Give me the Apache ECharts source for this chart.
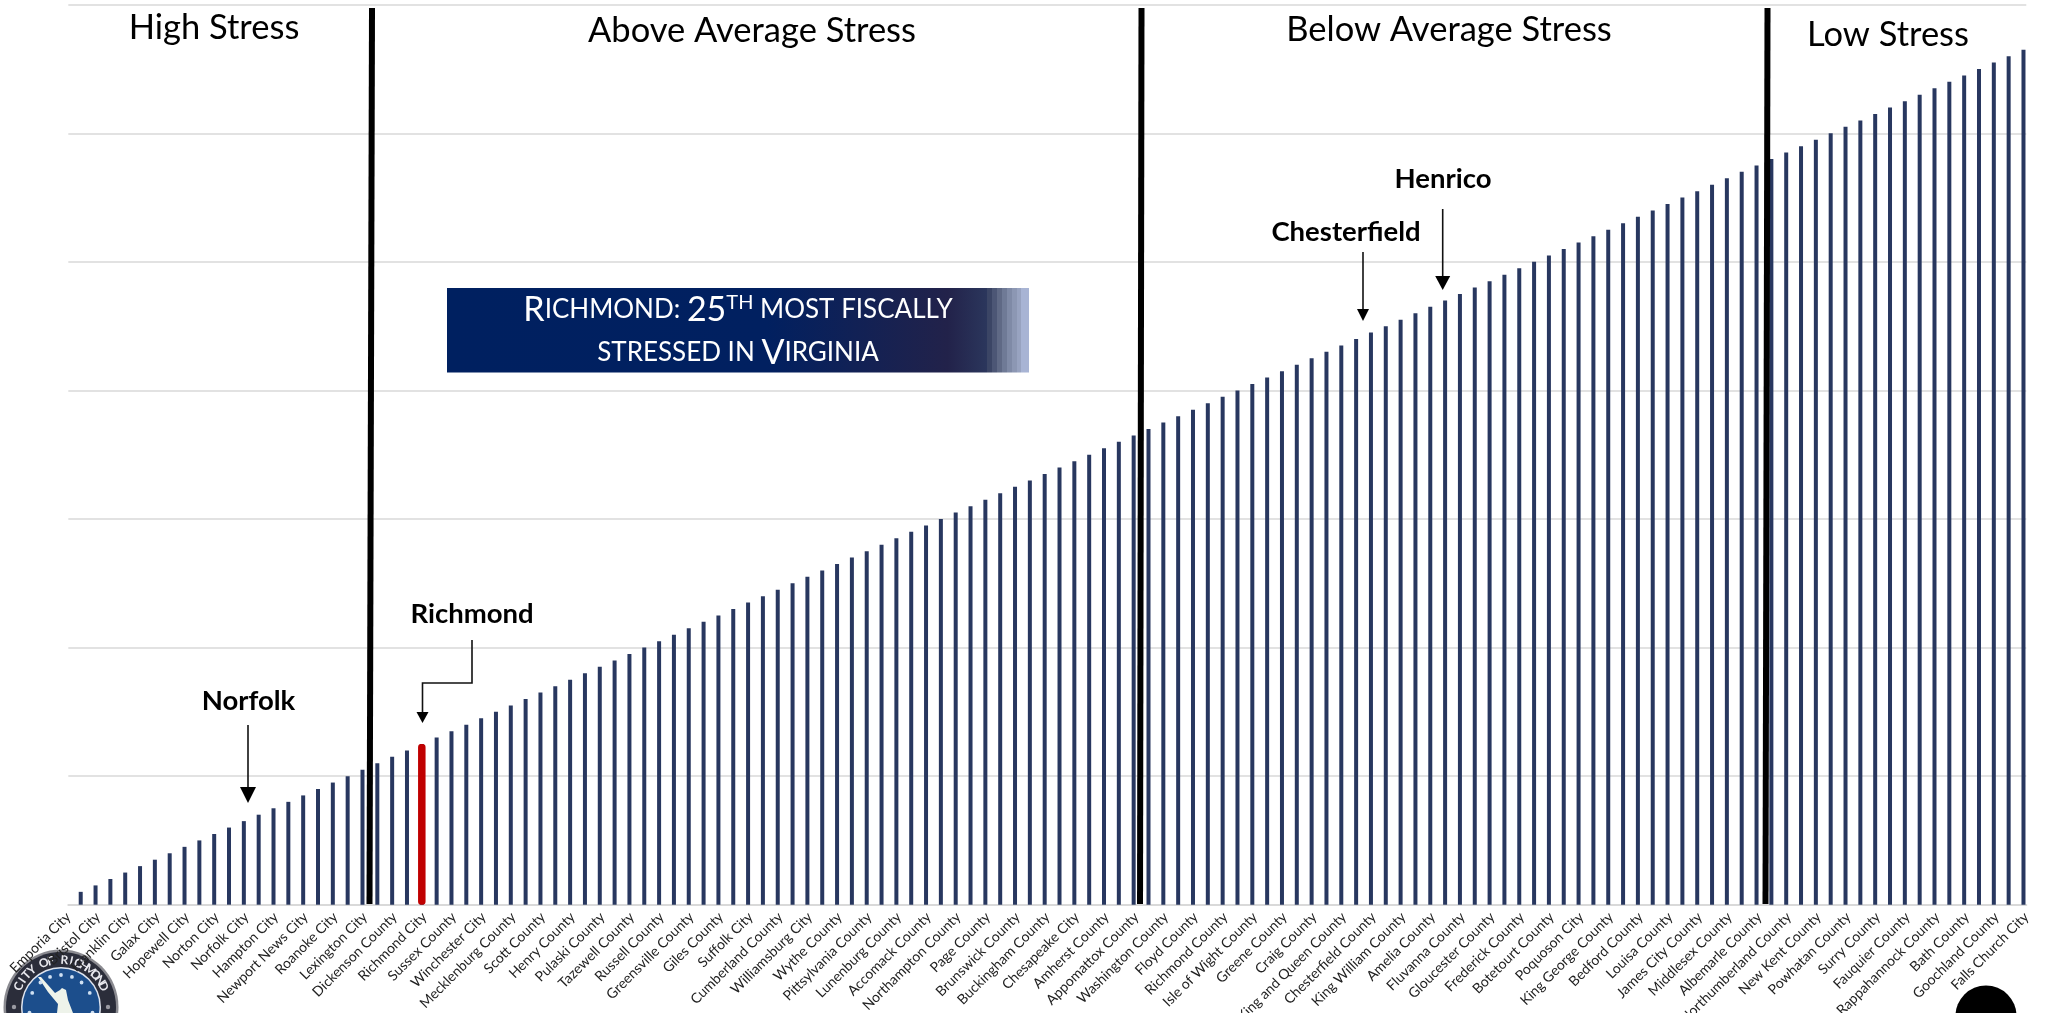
<!DOCTYPE html>
<html>
<head>
<meta charset="utf-8">
<title>Fiscal stress ranking</title>
<style>
    html, body { margin: 0; padding: 0; background: #fff; overflow: hidden; }
    #main { width: 2049px; height: 1013px; }
</style>
<script src="https://cdn.jsdelivr.net/npm/echarts@6/dist/echarts.min.js"></script>
</head>
<body>
<div id="main"></div>
<script>
// 67 labels, the axis only shows every other locality
const tickLabels = [
    'Emporia City', 'Bristol City', 'Franklin City', 'Galax City', 'Hopewell City', 'Norton City',
    'Norfolk City', 'Hampton City', 'Newport News City', 'Roanoke City', 'Lexington City',
    'Dickenson County', 'Richmond City', 'Sussex County', 'Winchester City', 'Mecklenburg County',
    'Scott County', 'Henry County', 'Pulaski County', 'Tazewell County', 'Russell County',
    'Greensville County', 'Giles County', 'Suffolk City', 'Cumberland County', 'Williamsburg City',
    'Wythe County', 'Pittsylvania County', 'Lunenburg County', 'Accomack County', 'Northampton County',
    'Page County', 'Brunswick County', 'Buckingham County', 'Chesapeake City', 'Amherst County',
    'Appomattox County', 'Washington County', 'Floyd County', 'Richmond County', 'Isle of Wight County',
    'Greene County', 'Craig County', 'King and Queen County', 'Chesterfield County', 'King William County',
    'Amelia County', 'Fluvanna County', 'Gloucester County', 'Frederick County', 'Botetourt County',
    'Poquoson City', 'King George County', 'Bedford County', 'Louisa County', 'James City County',
    'Middlesex County', 'Albemarle County', 'Northumberland County', 'New Kent County', 'Powhatan County',
    'Surry County', 'Fauquier County', 'Rappahannock County', 'Bath County', 'Goochland County',
    'Falls Church City'
];

// bar heights (one gridline = 20)
const barValues = [
    2, 3, 4, 5, 6, 7, 8, 9, 10, 11, 12, 13, 14, 15, 16, 17, 18, 19, 20, 21, 22, 23, 24, 25,
    26, 27, 28, 29, 30, 31, 32, 33, 34, 35, 36, 37, 38, 39, 40, 41, 42, 43, 44, 45, 46, 47, 48, 49,
    50, 51, 52, 53, 54, 55, 56, 57, 58, 59, 60, 61, 62, 63, 64, 65, 66, 67, 68, 69, 70, 71, 72, 73,
    74, 75, 76, 77, 78, 79, 80, 81, 82, 83, 84, 85, 86, 87, 88, 89, 90, 91, 92, 93, 94, 95, 96, 97,
    98, 99, 100, 101, 102, 103, 104, 105, 106, 107, 108, 109, 110, 111, 112, 113, 114, 115, 116, 117,
    118, 119, 120, 121, 122, 123, 124, 125, 126, 127, 128, 129, 130, 131, 132, 133
];
const richmondValue = 25;

const barCategories = barValues.map(String);
const richmondData = barValues.map(v => (v === richmondValue ? v : null));

const bandTitles = [
    { text: 'High Stress', x: 214, y: 28 },
    { text: 'Above Average Stress', x: 752, y: 31 },
    { text: 'Below Average Stress', x: 1449, y: 30 },
    { text: 'Low Stress', x: 1888, y: 35 }
];

const FONT = 'Lato, "Open Sans", sans-serif';
const NAVY = '#28375f';

// 分隔线
function divider(x1, x2) {
    return {
        type: 'line', z: 20, silent: true,
        shape: { x1: x1, y1: 8, x2: x2, y2: 904 },
        style: { stroke: '#000', lineWidth: 6 }
    };
}

// 箭头: points = 折线, 最后一段朝下
function arrow(points, headTop, headWidth) {
    const tip = points[points.length - 1];
    return [
        {
            type: 'polyline', z: 20, silent: true,
            shape: { points: points.slice(0, -1).concat([[tip[0], headTop]]) },
            style: { stroke: '#111', lineWidth: 1.6, fill: null }
        },
        {
            type: 'polygon', z: 20, silent: true,
            shape: { points: [[tip[0] - headWidth / 2, headTop], [tip[0] + headWidth / 2, headTop], tip] },
            style: { fill: '#000' }
        }
    ];
}

function boldLabel(text, x, y) {
    return {
        type: 'text', z: 20, silent: true,
        style: { text: text, x: x, y: y, textAlign: 'center', textVerticalAlign: 'middle', font: 'bold 27.5px ' + FONT, fill: '#000' }
    };
}

// 横幅渐变, 右端是一格一格变浅的
function bannerFill() {
    const steps = [
        [0.927, '#3b4565'], [0.936, '#4c5675'], [0.945, '#5f6985'], [0.953, '#6f7a96'],
        [0.962, '#7f8aa6'], [0.970, '#8c97b3'], [0.979, '#98a3c0'], [0.987, '#a8b4d4']
    ];
    const stops = [
        { offset: 0, color: '#002060' },
        { offset: 0.55, color: '#012060' },
        { offset: 0.86, color: '#22224a' },
        { offset: 0.927, color: '#2b365c' }
    ];
    steps.forEach((s, i) => {
        const end = i < steps.length - 1 ? steps[i + 1][0] : 1;
        stops.push({ offset: s[0], color: s[1] }, { offset: end, color: s[1] });
    });
    return new echarts.graphic.LinearGradient(0, 0, 1, 0, stops);
}

// 城市徽章
function seal() {
    const cx = 61, cy = 1007;
    const els = [
        { type: 'circle', z: -5, silent: true, shape: { cx: cx, cy: cy, r: 57.5 }, style: { fill: '#8a8a90' } },
        { type: 'circle', z: -5, silent: true, shape: { cx: cx, cy: cy, r: 55 }, style: { fill: '#2b2d3a' } },
        { type: 'circle', z: -5, silent: true, shape: { cx: cx, cy: cy, r: 40 }, style: { fill: '#dfe4ee' } },
        { type: 'circle', z: -5, silent: true, shape: { cx: cx, cy: cy, r: 38.5 }, style: { fill: '#1c4e8c' } },
        {
            type: 'polygon', z: -5, silent: true,
            shape: { points: [[38, 977], [41, 977], [55, 993], [60, 990], [62, 988], [66, 990], [68, 1000], [73, 1013], [57, 1013], [58, 1004], [48, 992]] },
            style: { fill: '#eef3ea' }
        }
    ];
    const name = 'CITY OF RICHMOND';
    for (let i = 0; i < name.length; i++) {
        const a = (-64 + i * 128 / (name.length - 1)) * Math.PI / 180;
        els.push({
            type: 'text', z: -5, silent: true, rotation: -a,
            x: cx + 47 * Math.sin(a), y: cy - 47 * Math.cos(a),
            style: { text: name[i], x: 0, y: 0, textAlign: 'center', textVerticalAlign: 'middle', font: 'bold 12px ' + FONT, fill: '#e8e8ee' }
        });
    }
    [-64, -40, -20, 0, 20, 40, 64, 100, -100].forEach(deg => {
        const a = deg * Math.PI / 180;
        els.push({
            type: 'circle', z: -5, silent: true,
            shape: { cx: cx + 32 * Math.sin(a), cy: cy - 32 * Math.cos(a), r: 1.9 },
            style: { fill: '#cfe0f2' }
        });
    });
    [-90, 90].forEach(deg => {
        const a = deg * Math.PI / 180;
        els.push({
            type: 'circle', z: -5, silent: true,
            shape: { cx: cx + 47 * Math.sin(a), cy: cy - 47 * Math.cos(a), r: 2.2 },
            style: { fill: '#9a9aa2' }
        });
    });
    return els;
}

const graphicElements = [
    divider(372, 369.5),
    divider(1141.5, 1140),
    divider(1767.5, 1765.5)
].concat(
    bandTitles.map(t => ({
        type: 'text', z: 20, silent: true,
        style: { text: t.text, x: t.x, y: t.y, textAlign: 'center', textVerticalAlign: 'middle', font: '34.5px ' + FONT, fill: '#000' }
    })),
    boldLabel('Norfolk', 248.5, 701),
    boldLabel('Richmond', 472, 614),
    boldLabel('Chesterfield', 1346, 232),
    boldLabel('Henrico', 1443, 179),
    arrow([[248, 725], [248, 803]], 787, 16),
    arrow([[472, 640], [472, 683], [422.5, 683], [422.5, 723]], 712, 12),
    arrow([[1363, 252], [1363, 321]], 309, 12),
    arrow([[1442.7, 209], [1442.7, 290]], 276, 15),
    [{
        type: 'rect', z: 20, silent: true,
        shape: { x: 447, y: 288, width: 582, height: 84.5 },
        style: { fill: bannerFill() }
    }, {
        type: 'text', z: 21, silent: true,
        style: {
            text: '{b|R}{s|ICHMOND: }{b|25}{u|TH}{s| MOST FISCALLY}',
            x: 738, y: 310, textAlign: 'center', textVerticalAlign: 'middle',
            fill: '#fff',
            rich: {
                b: { font: '34px ' + FONT, fill: '#fff' },
                s: { font: '26px ' + FONT, fill: '#fff' },
                u: { font: '20px ' + FONT, fill: '#fff', verticalAlign: 'top', lineHeight: 30 }
            }
        }
    }, {
        type: 'text', z: 21, silent: true,
        style: {
            text: '{s|STRESSED IN }{b|V}{s|IRGINIA}',
            x: 738, y: 353, textAlign: 'center', textVerticalAlign: 'middle',
            fill: '#fff',
            rich: {
                b: { font: '34px ' + FONT, fill: '#fff' },
                s: { font: '26px ' + FONT, fill: '#fff' }
            }
        }
    }],
    seal(),
    // 右下角黑色圆块
    [{ type: 'circle', z: -5, silent: true, shape: { cx: 1986, cy: 1016, r: 30.5 }, style: { fill: '#000' } }]
);

const myChart = echarts.init(document.getElementById('main'));

const option = {
    animation: false,
    backgroundColor: '#fff',
    // grid 0: 网格线和标签; grid 1: 柱子 (柱子相对刻度右移 5px)
    grid: [
        { left: 68.3, top: 4.7, width: 1958, height: 900, outerBoundsMode: 'none' },
        { left: 73.3, top: 4.7, width: 1957.6, height: 900, outerBoundsMode: 'none' }
    ],
    xAxis: [
        {
            type: 'category',
            gridIndex: 0,
            data: tickLabels,
            boundaryGap: false,
            axisLine: { show: true, lineStyle: { color: '#d9d9d9', width: 2 } },
            axisTick: { show: false },
            axisLabel: {
                interval: 0,
                rotate: 45,
                margin: 10,
                hideOverlap: false,
                showMinLabel: true,
                showMaxLabel: true,
                fontFamily: FONT,
                fontSize: 14,
                color: '#222'
            }
        },
        { type: 'category', gridIndex: 1, data: barCategories, show: false },
        { type: 'category', gridIndex: 1, data: barCategories, position: 'top', show: false }
    ],
    yAxis: [
        {
            type: 'value',
            gridIndex: 0,
            min: 0,
            max: 140,
            interval: 20,
            axisLine: { show: false },
            axisTick: { show: false },
            axisLabel: { show: false },
            splitLine: { lineStyle: { color: '#d9d9d9', width: 1.6 } }
        },
        { type: 'value', gridIndex: 1, min: 0, max: 140, show: false, splitLine: { show: false } }
    ],
    series: [
        {
            type: 'bar',
            xAxisIndex: 1,
            yAxisIndex: 1,
            data: barValues,
            barWidth: 4,
            itemStyle: { color: NAVY },
            silent: true
        },
        {
            type: 'bar',
            xAxisIndex: 2,
            yAxisIndex: 1,
            data: richmondData,
            barWidth: 7.5,
            itemStyle: { color: '#c00000', borderColor: '#c00000', borderWidth: 2.5, borderRadius: 2 },
            silent: true
        }
    ],
    graphic: { elements: graphicElements }
};

myChart.setOption(option);
window.addEventListener('resize', myChart.resize);
</script>
</body>
</html>
